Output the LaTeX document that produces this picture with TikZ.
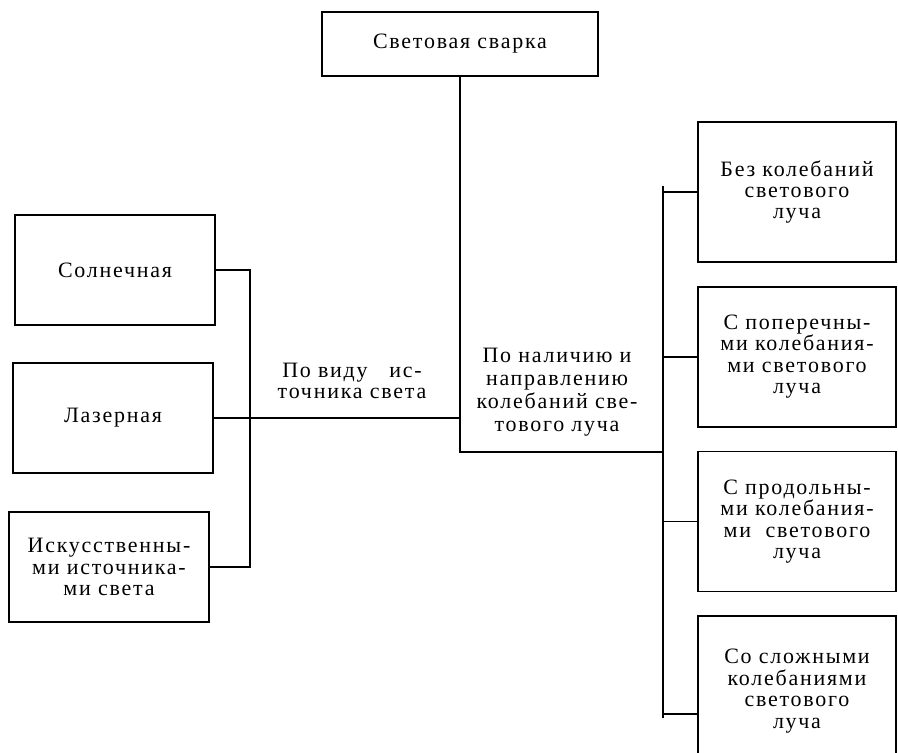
\documentclass[tikz,border=0pt]{standalone}
\usepackage{fontspec}
\setmainfont{Liberation Serif}[LetterSpace=8]
\usepackage{tikz}
\usetikzlibrary{positioning,calc}
\tikzstyle{block} = [rectangle, draw, line width=1pt, align=center, font=\fontsize{12.5}{12.2}\selectfont]
\tikzstyle{leftblock} = [block, minimum width=4cm, minimum height=2.2cm]
\tikzstyle{rightblock} = [block, minimum width=3.96cm, minimum height=2.8cm]
\tikzstyle{crit} = [align=center, font=\fontsize{12.5}{12.2}\selectfont]
\tikzstyle{line} = [draw, line width=1pt]

\begin{document}
\begin{tikzpicture}[x=0.02cm, y=-0.02cm, node distance=0.46cm]
    \useasboundingbox (0,0) rectangle (898,752);
    % Blocks
    \node [block, minimum width=5.52cm, minimum height=1.28cm] (weld) at (460,44) {Световая сварка};
    \node [leftblock] (sun) at (115,270) {Солнечная};
    \node [leftblock] (laser) at (113,418) {Лазерная};
    \node [leftblock] (artif) at (109,567) {Искусственны-\\ми источника-\\ми света};
    \node [rightblock] (bez) at (797,192) {Без колебаний\\светового\\луча};
    \node [rightblock, below=of bez] (poper) {С поперечны-\\ми колебания-\\ми светового\\луча};
    \node [rightblock, below=of poper] (prodol) {С продольны-\\ми колебания-\\ми~~светового\\луча};
    \node [rightblock, below=of prodol, minimum height=3cm] (slozh) {Со сложными\\колебаниями\\светового\\луча};
    % Criteria
    \node [crit] (bytype) at (352,381) {По виду~~~ис-\\точника света};
    \node [crit, font=\fontsize{12.5}{13.2}\selectfont] (bydir) at (557,392) {По наличию и\\направлению\\колебаний све-\\тового луча};
    % Lines
    \coordinate (lbus) at (250,417);
    \coordinate (corner) at (663,452);
    \coordinate (rtop) at (663,186);
    \coordinate (rend) at (663,718);
    \path [line] (weld) |- (corner);
    \path [line] (sun.east) -| (lbus) |- (artif.east);
    \path [line] (laser.east) -- (laser.east -| weld.south);
    \path [line] (rtop) -- (rend);
    \foreach \n in {bez,poper,prodol}
        \path [line] (\n.west) -- (\n.west -| rtop);
    \path [line] ([yshift=-0.46cm]slozh.west) coordinate (sl) -- (sl -| rtop);
\end{tikzpicture}
\end{document}
